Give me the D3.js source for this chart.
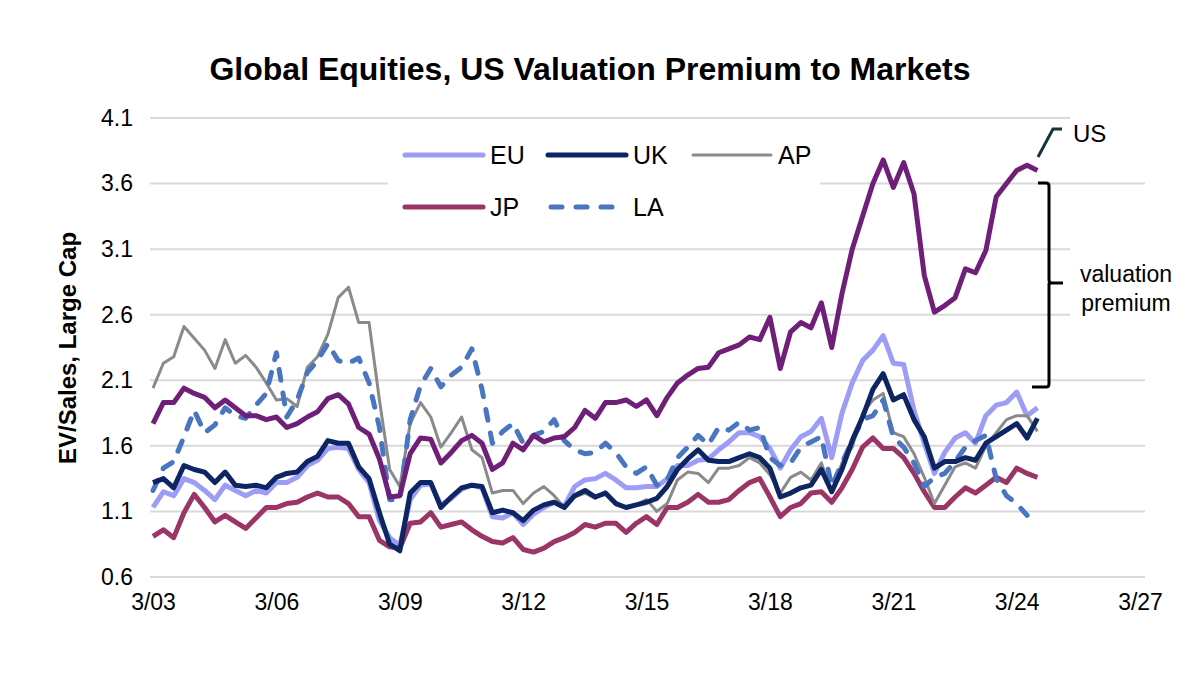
<!doctype html>
<html lang="en">
<head>
  <meta charset="utf-8">
  <title>Global Equities, US Valuation Premium to Markets</title>
</head>

<style>
body {
	margin: 0;
	background: #fff;
	font-family: "Liberation Sans", Arial, sans-serif;
}
</style>

<body>
  <script src="https://cdn.jsdelivr.net/npm/d3@7"></script>
  <script>

	// quarterly readings, Mar 2003 onwards
	var us = [1.77,1.93,1.93,2.04,2.00,1.97,1.89,1.95,1.89,1.83,1.83,1.80,1.82,1.74,1.77,1.82,1.86,1.96,1.99,1.92,1.74,1.69,1.50,1.21,1.22,
		1.54,1.66,1.65,1.47,1.55,1.64,1.68,1.62,1.42,1.47,1.62,1.57,1.68,1.63,1.66,1.67,1.74,1.87,1.81,1.93,1.93,1.95,1.90,1.95,1.83,1.97,2.08,2.14,2.19,2.20,2.31,2.34,2.37,2.43,2.41,
		2.58,2.19,2.47,2.54,2.50,2.69,2.35,2.76,3.10,3.35,3.60,3.78,3.57,3.76,3.52,2.90,2.62,2.67,2.73,2.95,2.92,3.09,3.50,3.60,3.70,3.74,3.70];
	var eu = [1.13,1.25,1.22,1.35,1.32,1.26,1.19,1.30,1.26,1.22,1.26,1.24,1.32,1.32,1.36,1.45,1.49,1.58,1.59,1.58,1.42,1.32,1.03,0.90,0.84,
		1.19,1.30,1.31,1.15,1.20,1.27,1.30,1.28,1.06,1.05,1.09,1.00,1.08,1.13,1.17,1.14,1.29,1.34,1.35,1.39,1.34,1.28,1.28,1.29,1.29,1.35,1.45,
		1.45,1.49,1.50,1.57,1.63,1.70,1.70,1.67,
		1.58,1.43,1.57,1.67,1.71,1.81,1.51,1.85,2.08,2.25,2.33,2.44,2.23,2.22,1.87,1.62,1.39,1.55,1.66,1.70,1.62,1.83,1.91,1.93,2.01,1.83,1.89];
	var uk = [1.32,1.35,1.28,1.45,1.42,1.40,1.32,1.40,1.30,1.29,1.30,1.28,1.36,1.39,1.40,1.48,1.52,1.64,1.62,1.62,1.44,1.35,1.09,0.85,0.80,
		1.24,1.32,1.32,1.13,1.21,1.28,1.30,1.29,1.09,1.11,1.09,1.03,1.11,1.15,1.17,1.13,1.22,1.26,1.21,1.24,1.16,1.13,1.15,1.17,1.20,1.29,1.42,
		1.50,1.57,1.49,1.48,1.48,1.51,1.54,1.51,
		1.43,1.21,1.24,1.28,1.30,1.42,1.25,1.42,1.64,1.82,2.03,2.15,1.95,1.99,1.80,1.67,1.43,1.48,1.48,1.51,1.49,1.62,1.67,1.72,1.77,1.66,1.81];
	var ap = [2.04,2.23,2.28,2.51,2.42,2.33,2.19,2.41,2.23,2.29,2.20,2.08,1.95,1.96,1.90,2.20,2.28,2.45,2.73,2.81,2.54,2.54,1.95,1.42,1.29,
		1.77,1.93,1.82,1.59,1.70,1.82,1.57,1.51,1.24,1.26,1.26,1.16,1.24,1.29,1.22,1.13,1.21,1.24,1.20,1.25,1.17,1.13,1.15,1.19,1.10,1.16,1.34,
		1.40,1.39,1.32,1.43,1.43,1.45,1.51,1.47,
		1.38,1.24,1.36,1.40,1.34,1.47,1.25,1.47,1.59,1.85,1.95,2.00,1.70,1.67,1.54,1.36,1.16,1.30,1.44,1.47,1.43,1.60,1.70,1.80,1.83,1.83,1.71];
	var jp = [0.91,0.96,0.90,1.09,1.23,1.13,1.02,1.07,1.02,0.97,1.05,1.13,1.13,1.16,1.17,1.21,1.24,1.21,1.21,1.16,1.06,1.06,0.88,0.83,0.82,
		1.01,1.02,1.09,0.98,1.00,1.02,0.96,0.91,0.87,0.86,0.90,0.81,0.79,0.82,0.87,0.90,0.94,1.00,0.98,1.01,1.01,0.94,1.01,1.06,1.00,1.13,1.13,
		1.17,1.23,1.17,1.17,1.19,1.26,1.32,1.35,
		1.21,1.06,1.13,1.16,1.24,1.25,1.17,1.28,1.42,1.59,1.66,1.58,1.58,1.51,1.39,1.25,1.13,1.13,1.21,1.28,1.24,1.30,1.36,1.32,1.43,1.39,1.36];
	var la = [1.26,1.43,1.48,1.67,1.87,1.70,1.76,1.89,1.83,1.81,1.91,2.00,2.31,1.82,1.95,2.16,2.25,2.38,2.25,2.23,2.27,2.08,1.74,1.19,1.19,
		1.80,2.06,2.19,2.05,2.14,2.20,2.34,2.03,1.62,1.71,1.77,1.62,1.68,1.71,1.80,1.64,1.57,1.54,1.55,1.62,1.55,1.44,1.39,1.44,1.30,1.34,1.51,
		1.59,1.68,1.61,1.74,1.72,1.78,1.72,1.74,
		1.51,1.45,1.47,1.59,1.63,1.67,1.29,1.47,1.64,1.80,1.83,1.95,1.67,1.59,1.47,1.29,1.36,1.39,1.48,1.59,1.64,1.68,1.35,1.22,1.16,1.07];

	var yTicks = [0.6, 1.1, 1.6, 2.1, 2.6, 3.1, 3.6, 4.1];
	var xTickYears = [2003, 2006, 2009, 2012, 2015, 2018, 2021, 2024, 2027];
	var xTickLabels = ["3/03", "3/06", "3/09", "3/12", "3/15", "3/18", "3/21", "3/24", "3/27"];

	var series = [
		{ name: "EU", values: eu, color: "#9d9cf7", width: 5, dash: null },
		{ name: "JP", values: jp, color: "#9b3566", width: 5, dash: null },
		{ name: "AP", values: ap, color: "#8a8a8a", width: 3, dash: null },
		{ name: "LA", values: la, color: "#4a75c0", width: 5, dash: "11,13" },
		{ name: "UK", values: uk, color: "#0d2563", width: 5, dash: null },
		{ name: "US", values: us, color: "#6f1f78", width: 5, dash: null }
	];

	function dateOf(i) {
		return new Date(2003, 2 + 3 * i, 1);
	}

	var svg = d3.select("body").append("svg")
		.attr("width", 1200)
		.attr("height", 681);

	var x = d3.scaleTime()
		.domain([new Date(2003, 2, 1), new Date(2027, 2, 1)])
		.range([153, 1140]);

	var y = d3.scaleLinear()
		.domain([0.6, 4.1])
		.range([577, 118]);

	// Title
	svg.append("text")
		.attr("x", 590)
		.attr("y", 80)
		.attr("text-anchor", "middle")
		.attr("font-size", "32px")
		.attr("font-weight", "bold")
		.text("Global Equities, US Valuation Premium to Markets");

	// Gridlines
	svg.append("g")
		.selectAll("line")
		.data(yTicks)
		.join("line")
		.attr("x1", 150)
		.attr("x2", 1145)
		.attr("y1", d => y(d))
		.attr("y2", d => y(d))
		.attr("stroke", "#d9d9d9")
		.attr("stroke-width", 2);

	// Y axis labels
	var yAxis = svg.append("g")
		.attr("transform", "translate(136,0)")
		.call(d3.axisLeft(y).tickValues(yTicks).tickFormat(d3.format(".1f")).tickSize(0));
	yAxis.select(".domain").remove();
	yAxis.selectAll("text")
		.attr("font-family", "Liberation Sans, Arial, sans-serif")
		.attr("font-size", "23px")
		.attr("fill", "#000");

	// X axis labels
	var xAxis = svg.append("g")
		.attr("transform", "translate(0,591)")
		.call(d3.axisBottom(x)
			.tickValues(xTickYears.map(yr => new Date(yr, 2, 1)))
			.tickFormat((d, i) => xTickLabels[i])
			.tickSize(0));
	xAxis.select(".domain").remove();
	xAxis.selectAll("text")
		.attr("font-family", "Liberation Sans, Arial, sans-serif")
		.attr("font-size", "23px")
		.attr("fill", "#000");

	// Y axis title
	svg.append("text")
		.attr("transform", "translate(76,348) rotate(-90)")
		.attr("text-anchor", "middle")
		.attr("font-size", "24px")
		.attr("font-weight", "bold")
		.text("EV/Sales, Large Cap");

	// white boxes behind legend and annotations
	svg.append("rect").attr("x", 388).attr("y", 132).attr("width", 432).attr("height", 104).attr("fill", "#fff");
	svg.append("rect").attr("x", 1070).attr("y", 104).attr("width", 130).attr("height", 46).attr("fill", "#fff");
	svg.append("rect").attr("x", 1070).attr("y", 240).attr("width", 130).attr("height", 90).attr("fill", "#fff");

	// Lines
	var line = d3.line()
		.x((d, i) => x(dateOf(i)))
		.y(d => y(d));

	svg.append("g")
		.selectAll("path")
		.data(series)
		.join("path")
		.attr("d", d => line(d.values))
		.attr("fill", "none")
		.attr("stroke", d => d.color)
		.attr("stroke-width", d => d.width)
		.attr("stroke-linejoin", "round")
		.attr("stroke-linecap", d => d.dash ? "round" : "butt")
		.attr("stroke-dasharray", d => d.dash);

	// Legend
	var legendItems = [
		{ s: "EU", lx: 405, ly: 155 },
		{ s: "UK", lx: 548, ly: 155 },
		{ s: "AP", lx: 693, ly: 155 },
		{ s: "JP", lx: 405, ly: 207 },
		{ s: "LA", lx: 548, ly: 207 }
	];

	var leg = svg.append("g")
		.selectAll("g")
		.data(legendItems)
		.join("g")
		.attr("transform", d => "translate(" + d.lx + "," + d.ly + ")");

	leg.append("line")
		.attr("x1", d => series.find(s => s.name == d.s).dash ? 3 : 0)
		.attr("x2", d => series.find(s => s.name == d.s).dash ? 72 : 78)
		.attr("stroke", d => series.find(s => s.name == d.s).color)
		.attr("stroke-width", d => series.find(s => s.name == d.s).width)
		.attr("stroke-linecap", "round")
		.attr("stroke-dasharray", d => series.find(s => s.name == d.s).dash ? "11,14" : null);

	leg.append("text")
		.attr("x", 85)
		.attr("y", 9)
		.attr("font-size", "25px")
		.text(d => d.s);

	// US label with connector
	svg.append("path")
		.attr("d", "M1038,157 L1053,129 L1062,129")
		.attr("fill", "none")
		.attr("stroke", "#17333f")
		.attr("stroke-width", 3);

	svg.append("text")
		.attr("x", 1073)
		.attr("y", 142)
		.attr("font-size", "24px")
		.text("US");

	// valuation premium bracket
	svg.append("path")
		.attr("d", "M1038,183 L1046,183 Q1049,183 1049,186 L1049,280 Q1049,283 1052,283 L1063,283 M1049,283 L1049,384 Q1049,387 1046,387 L1032,387")
		.attr("fill", "none")
		.attr("stroke", "#000")
		.attr("stroke-width", 3);

	svg.append("text")
		.attr("x", 1126)
		.attr("y", 282)
		.attr("text-anchor", "middle")
		.attr("font-size", "23px")
		.text("valuation");

	svg.append("text")
		.attr("x", 1126)
		.attr("y", 311)
		.attr("text-anchor", "middle")
		.attr("font-size", "23px")
		.attr("font-size", "23px")
		.text("premium");

  </script>
</body>
</html>
